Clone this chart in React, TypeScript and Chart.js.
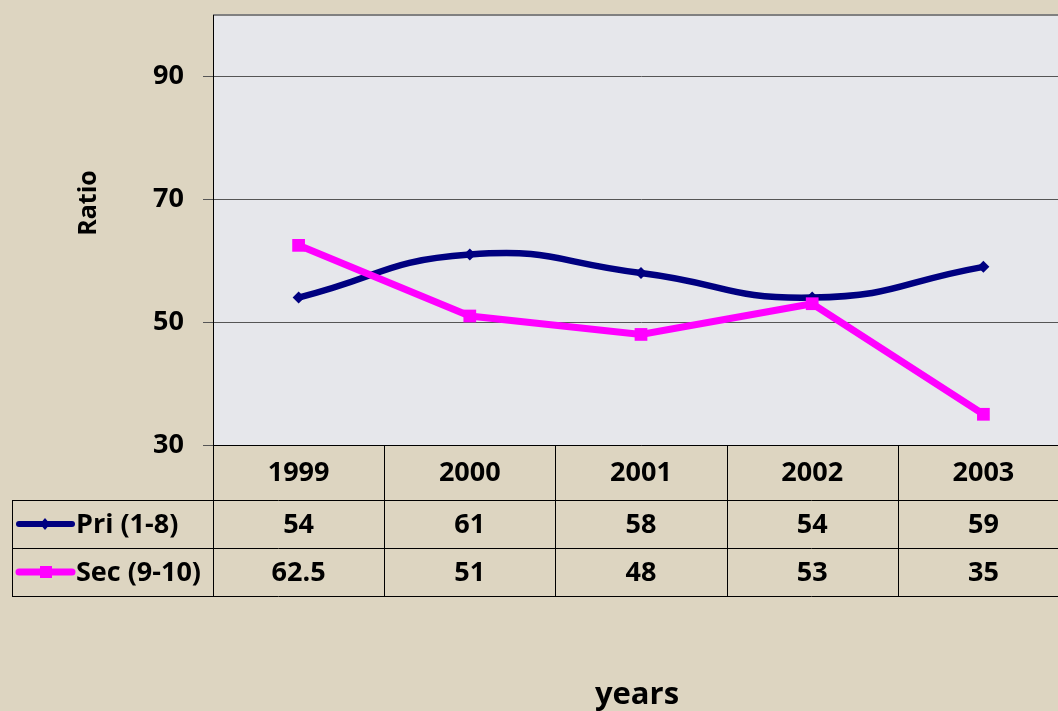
import React, { useEffect, useRef } from "react";
import { Chart, registerables } from "chart.js";

Chart.register(...registerables);

const years = ["1999", "2000", "2001", "2002", "2003"];
const priValues = [54, 61, 58, 54, 59];
const secValues = [62.5, 51, 48, 53, 35];
const seriesNames = ["Pri (1-8)", "Sec (9-10)"];
const yTickValues = [30, 50, 70, 90];
const yTitle = "Ratio";
const xTitle = "years";

const FONT = "'Open Sans', Lato, sans-serif";
const BEIGE = "#ddd5c1";
const MARBLE = "#e6e7eb";
const NAVY = "#000080";
const MAGENTA = "#ff00ff";
const CANVAS_W = 1078;

const tablePlugin = {
  id: "tablePlugin",
  beforeDraw(chart: any) {
    const { ctx, chartArea } = chart;
    ctx.save();
    ctx.fillStyle = BEIGE;
    ctx.fillRect(0, 0, chart.width, chart.height);
    ctx.fillStyle = MARBLE;
    ctx.fillRect(chartArea.left, chartArea.top, chartArea.right - chartArea.left, chartArea.bottom - chartArea.top);
    ctx.strokeStyle = "#808080";
    ctx.lineWidth = 2;
    ctx.beginPath();
    ctx.moveTo(chartArea.left, chartArea.top);
    ctx.lineTo(chartArea.right, chartArea.top);
    ctx.stroke();
    ctx.restore();
  },
  afterDraw(chart: any) {
    const { ctx, chartArea } = chart;
    const xs = chart.scales.x;
    const half = (xs.getPixelForValue(1) - xs.getPixelForValue(0)) / 2;
    const b = chartArea.bottom;
    const r0 = b, r1 = b + 55, r2 = b + 103, r3 = b + 151;
    const tableLeft = 12;
    ctx.save();
    ctx.strokeStyle = "#000";
    ctx.lineWidth = 1;
    ctx.beginPath();
    ctx.moveTo(tableLeft, r1 + 0.5); ctx.lineTo(chart.width, r1 + 0.5);
    ctx.moveTo(tableLeft, r2 + 0.5); ctx.lineTo(chart.width, r2 + 0.5);
    ctx.moveTo(tableLeft, r3 + 0.5); ctx.lineTo(chart.width, r3 + 0.5);
    ctx.moveTo(tableLeft + 0.5, r1); ctx.lineTo(tableLeft + 0.5, r3);
    for (let i = 0; i <= years.length; i++) {
      const x = Math.round(xs.getPixelForValue(0) - half + i * 2 * half) + 0.5;
      ctx.moveTo(x, r0); ctx.lineTo(x, r3);
    }
    ctx.stroke();

    ctx.fillStyle = "#000";
    ctx.font = `bold 27px ${FONT}`;
    ctx.textAlign = "center";
    ctx.textBaseline = "middle";
    years.forEach((y, i) => {
      const cx = xs.getPixelForValue(i);
      ctx.fillText(y, cx, (r0 + r1) / 2 + 1);
      ctx.fillText(String(priValues[i]), cx, (r1 + r2) / 2 + 1);
      ctx.fillText(String(secValues[i]), cx, (r2 + r3) / 2 + 1);
    });

    const rows = [(r1 + r2) / 2, (r2 + r3) / 2];
    ctx.lineCap = "round";
    ctx.strokeStyle = NAVY;
    ctx.lineWidth = 6;
    ctx.beginPath();
    ctx.moveTo(19, rows[0]); ctx.lineTo(72, rows[0]);
    ctx.stroke();
    ctx.fillStyle = NAVY;
    ctx.beginPath();
    ctx.moveTo(45, rows[0] - 6); ctx.lineTo(50, rows[0]); ctx.lineTo(45, rows[0] + 6); ctx.lineTo(40, rows[0]);
    ctx.closePath(); ctx.fill();
    ctx.strokeStyle = MAGENTA;
    ctx.lineWidth = 7;
    ctx.beginPath();
    ctx.moveTo(19, rows[1]); ctx.lineTo(72, rows[1]);
    ctx.stroke();
    ctx.fillStyle = MAGENTA;
    ctx.fillRect(40, rows[1] - 6, 12, 12);

    ctx.fillStyle = "#000";
    ctx.textAlign = "left";
    ctx.fillText(seriesNames[0], 76, rows[0] + 1);
    ctx.fillText(seriesNames[1], 76, rows[1] + 1);

    ctx.textAlign = "center";
    ctx.font = `bold 25px ${FONT}`;
    ctx.save();
    ctx.translate(89, 203);
    ctx.rotate(-Math.PI / 2);
    ctx.fillText(yTitle, 0, 0);
    ctx.restore();
    ctx.font = `bold 31px ${FONT}`;
    ctx.fillText(xTitle, 637, 695);
    ctx.restore();
  },
};

export default function App() {
  const ref = useRef<HTMLCanvasElement>(null);
  useEffect(() => {
    if (!ref.current) return;
    const chart = new Chart(ref.current, {
      type: "line",
      data: {
        labels: years,
        datasets: [
          {
            label: seriesNames[0],
            data: priValues,
            borderColor: NAVY,
            backgroundColor: NAVY,
            borderWidth: 6.5,
            tension: 0.5,
            pointStyle: "rectRot",
            pointRadius: 6,
            pointBorderWidth: 0,
            order: 1,
          },
          {
            label: seriesNames[1],
            data: secValues,
            borderColor: MAGENTA,
            backgroundColor: MAGENTA,
            borderWidth: 7,
            tension: 0,
            pointStyle: "rect",
            pointRadius: 9,
            pointBorderWidth: 0,
            order: 0,
          },
        ],
      },
      options: {
        animation: false,
        responsive: false,
        maintainAspectRatio: false,
        layout: { padding: { top: 15, right: 2, left: 0, bottom: 0 } },
        plugins: { legend: { display: false }, tooltip: { enabled: false } },
        scales: {
          x: {
            type: "category",
            offset: true,
            grid: { display: false, drawTicks: false },
            ticks: { display: false },
            border: { display: true, color: "#000", width: 1 },
            afterFit: (s: any) => { s.height = 266; s.paddingLeft = 0; s.paddingRight = 0; },
          },
          y: {
            min: 30,
            max: 100,
            afterBuildTicks: (s: any) => { s.ticks = yTickValues.map((v) => ({ value: v })); },
            ticks: { color: "#000", font: { family: FONT, size: 27, weight: "bold" }, padding: 19 },
            grid: { color: "#555", tickLength: 10 },
            border: { color: "#000", width: 1 },
            afterFit: (s: any) => { s.width = 213; s.paddingTop = 0; s.paddingBottom = 0; },
          },
        },
      },
      plugins: [tablePlugin],
    });
    return () => chart.destroy();
  }, []);
  return (
    <div style={{ position: "fixed", left: 0, top: 0, width: 1058, height: 711, overflow: "hidden", background: BEIGE }}>
      <canvas ref={ref} width={CANVAS_W} height={711} style={{ display: "block", width: CANVAS_W, height: 711 }} />
    </div>
  );
}
